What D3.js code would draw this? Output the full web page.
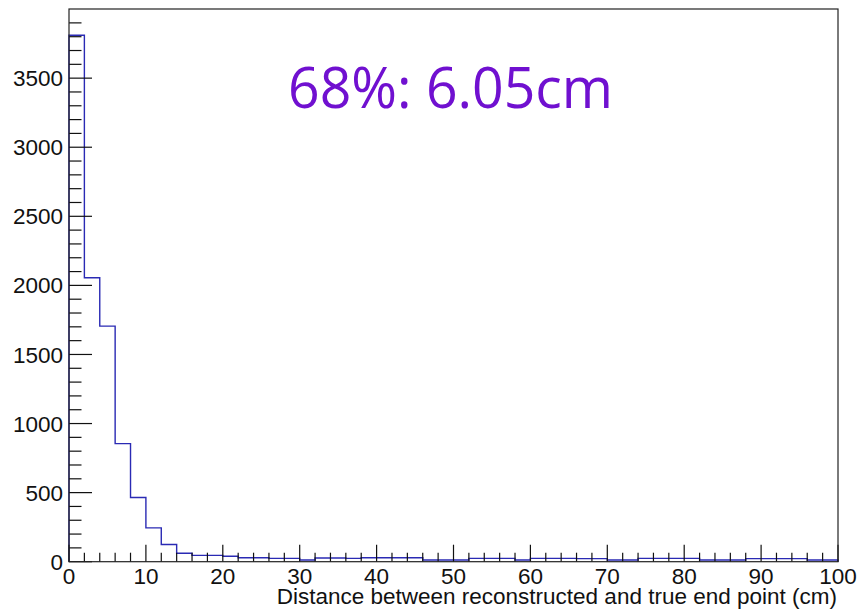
<!DOCTYPE html>
<html lang="en">
<head>
  <meta charset="UTF-8" />
  <title>Distance histogram</title>
  <script src="https://d3js.org/d3.v7.min.js"></script>
  <style>
    body {
      margin: 0;
      background: #ffffff;
      font-family: "Liberation Sans", Arial, sans-serif;
    }
    svg { display: block; }
    .frame { fill: none; stroke: #222; stroke-width: 1.2; }
    .tick line { stroke: #111; stroke-width: 1.2; }
    .tick-label { font-size: 22.5px; fill: #111; }
    .axis-title { font-size: 22.5px; fill: #111; }
    .hist { fill: none; stroke: #2a2ab4; stroke-width: 1.4; }
    .note { font-family: "Open Sans", "Noto Sans", sans-serif; fill: #7010d0; }
  </style>
</head>
<body>
<svg id="chart"></svg>
<script>
// bin edges 0..100 cm, width 2
const binEdges = d3.range(0, 101, 2);
const counts = [
  3810, 2055, 1705, 855, 465, 245, 125, 61, 46, 46,
  39, 29, 29, 24, 24, 12, 27, 27, 24, 29,
  29, 29, 29, 12, 12, 12, 24, 24, 24, 12,
  24, 24, 24, 22, 22, 12, 12, 24, 24, 24,
  24, 12, 12, 12, 22, 22, 22, 22, 12, 12
];
const xTicks = [0, 10, 20, 30, 40, 50, 60, 70, 80, 90, 100];
const yTicks = [0, 500, 1000, 1500, 2000, 2500, 3000, 3500];
const xTitle = "Distance between reconstructed and true end point (cm)";
const noteText = "68%: 6.05cm";

const width = 857, height = 610;
const padL = 69, padR = 838, padT = 9, padB = 561.7;

const svg = d3.select("#chart").attr("width", width).attr("height", height);

const x = d3.scaleLinear().domain([0, 100]).range([padL, padR]);
const y = d3.scaleLinear().domain([0, 1.05 * d3.max(counts)]).range([padB, padT]);

// histogram outline as a step line
const pts = [[binEdges[0], 0]];
counts.forEach((c, i) => {
  pts.push([binEdges[i], c]);
  pts.push([binEdges[i + 1], c]);
});
pts.push([binEdges[binEdges.length - 1], 0]);

svg.append("path")
  .attr("class", "hist")
  .attr("d", d3.line().x(d => x(d[0])).y(d => y(d[1]))(pts));

// x ticks, pointing inward
const xMinor = d3.range(0, 101, 2);
const gx = svg.append("g").attr("class", "tick");
gx.selectAll("line")
  .data(xMinor)
  .join("line")
  .attr("x1", d => x(d)).attr("x2", d => x(d))
  .attr("y1", padB)
  .attr("y2", d => padB - (d % 10 === 0 ? 17 : 9));

gx.selectAll("text")
  .data(xTicks)
  .join("text")
  .attr("class", "tick-label")
  .attr("x", d => x(d))
  .attr("y", 584)
  .attr("text-anchor", "middle")
  .text(d => d);

// y ticks
const yMinor = d3.range(0, 4000, 100);
const gy = svg.append("g").attr("class", "tick");
gy.selectAll("line")
  .data(yMinor)
  .join("line")
  .attr("y1", d => y(d)).attr("y2", d => y(d))
  .attr("x1", padL)
  .attr("x2", d => padL + (d % 500 === 0 ? 23 : 12.5));

gy.selectAll("text")
  .data(yTicks)
  .join("text")
  .attr("class", "tick-label")
  .attr("x", 63)
  .attr("y", d => y(d))
  .attr("dy", "0.36em")
  .attr("text-anchor", "end")
  .text(d => d);

// frame
svg.append("rect")
  .attr("class", "frame")
  .attr("x", padL).attr("y", padT)
  .attr("width", padR - padL).attr("height", padB - padT);

svg.append("text")
  .attr("class", "axis-title")
  .attr("x", 837)
  .attr("y", 604)
  .attr("text-anchor", "end")
  .text(xTitle);

svg.append("text")
  .attr("class", "note")
  .attr("x", 288)
  .attr("y", 108)
  .attr("font-size", 57)
  .attr("textLength", 325)
  .attr("lengthAdjust", "spacingAndGlyphs")
  .text(noteText);
</script>
</body>
</html>
